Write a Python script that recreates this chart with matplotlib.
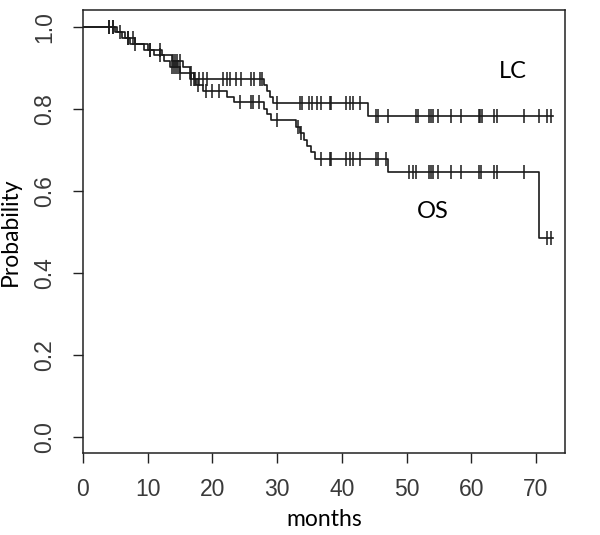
import numpy as np
import matplotlib.pyplot as plt
from matplotlib import font_manager

# Kaplan-Meier step points (time in months, survival after the step)
lc_times = [5.3, 6.5, 8.0, 10.0, 12.3, 13.8, 15.5, 16.6, 17.2,
            28.0, 28.4, 28.9, 29.4, 44.0]
lc_surv = [0.986, 0.972, 0.958, 0.944, 0.930, 0.915, 0.901, 0.887, 0.873,
           0.858, 0.843, 0.829, 0.814, 0.781]
lc_censor = [4.1, 4.7, 7.0, 7.7, 10.4, 11.9, 13.9, 14.2, 14.5, 15.0, 16.7,
             17.4, 18.0, 18.6, 19.2, 21.7, 22.3, 22.8, 23.7, 24.5, 26.0,
             26.4, 27.3, 27.7, 30.0, 33.6, 33.9, 34.9, 35.4, 36.1, 36.8,
             38.1, 38.4, 40.6, 41.2, 41.8, 42.8, 45.3, 45.6, 47.2, 51.5,
             51.8, 53.5, 53.8, 54.1, 54.8, 56.8, 58.4, 61.2, 61.4, 61.6,
             63.5, 64.0, 68.2, 70.5, 71.7, 72.3]

os_times = [5.0, 6.0, 7.3, 9.5, 11.0, 12.6, 13.5, 15.0, 16.5, 17.5, 18.5,
            22.3, 23.3, 28.0, 28.5, 29.0, 33.0, 33.6, 34.1, 34.6, 35.2,
            35.9, 47.1, 70.5]
os_surv = [0.986, 0.972, 0.958, 0.944, 0.930, 0.915, 0.901, 0.887, 0.873,
           0.858, 0.843, 0.829, 0.815, 0.800, 0.786, 0.772, 0.756, 0.740,
           0.724, 0.709, 0.693, 0.677, 0.645, 0.485]
os_censor = [4.1, 4.7, 5.7, 7.0, 8.1, 10.4, 11.9, 13.8, 14.1, 14.4, 14.7,
             15.0, 16.7, 17.2, 17.8, 19.0, 20.0, 21.0, 24.3, 26.0, 26.3,
             27.2, 30.0, 33.2, 33.7, 36.8, 38.1, 38.4, 40.6, 41.2, 41.8,
             42.8, 45.3, 45.6, 46.9, 50.4, 51.0, 51.4, 53.5, 53.8, 54.1,
             54.8, 56.8, 58.4, 61.2, 61.5, 63.5, 64.0, 68.2, 71.7, 72.3]
end_time = 72.6

x_ticks = [0, 10, 20, 30, 40, 50, 60, 70]
y_ticks = [0.0, 0.2, 0.4, 0.6, 0.8, 1.0]

installed = {f.name for f in font_manager.fontManager.ttflist}
tick_font = "Liberation Sans Narrow" if "Liberation Sans Narrow" in installed else "Liberation Sans"
label_font = "Lato"


def km_curve(times, surv):
    t = np.concatenate([[0.0], times, [end_time]])
    s = np.concatenate([[1.0], surv, [surv[-1]]])
    return t, s


def surv_at(times, surv, at):
    idx = np.searchsorted(times, at, side="right")
    s = np.concatenate([[1.0], surv])
    return s[idx]


fig = plt.figure(figsize=(6.0, 5.35), dpi=100)
ax = fig.add_axes([0.138, 0.153, 0.804, 0.828])

line_color = "#1a1a1a"
for times, surv, cens in [(lc_times, lc_surv, lc_censor),
                          (os_times, os_surv, os_censor)]:
    t, s = km_curve(times, surv)
    ax.step(t, s, where="post", color=line_color, lw=1.2)
    ax.plot(cens, surv_at(times, surv, cens), ls="none", marker="|",
            ms=9.5, mew=1.1, color=line_color)

ax.text(66.4, 0.89, "LC", fontsize=17, family=label_font, ha="center", va="center")
ax.text(54.0, 0.549, "OS", fontsize=17, family=label_font, ha="center", va="center")

ax.set_xlim(0, 74.5)
ax.set_ylim(-0.04, 1.04)
ax.set_xticks(x_ticks)
ax.set_yticks(y_ticks)
ax.set_xticklabels([str(v) for v in x_ticks], family=tick_font, fontsize=16.5, color="#3a3a3a")
ax.set_yticklabels([f"{v:.1f}" for v in y_ticks], family=tick_font, fontsize=16.5,
                   color="#3a3a3a", rotation=90, va="center")
ax.tick_params(axis="x", length=7, width=1.0, color="#222222", pad=11)
ax.tick_params(axis="y", length=7, width=1.0, color="#222222", pad=12)
for sp in ax.spines.values():
    sp.set_linewidth(1.1)
    sp.set_color("#222222")

ax.set_xlabel("months", family=label_font, fontsize=16.5)
ax.set_ylabel("Probability", family=label_font, fontsize=16.5)
ax.xaxis.set_label_coords(0.5, -0.125)
ax.yaxis.set_label_coords(-0.128, 0.5)

fig.savefig("out.png", dpi=100)
